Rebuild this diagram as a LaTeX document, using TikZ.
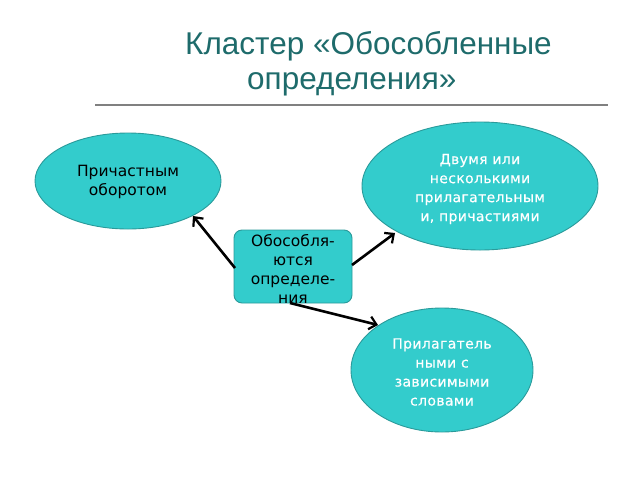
\documentclass[tikz,border=0pt]{standalone}
\usepackage{fontspec}
\setmainfont{DejaVu Sans}
\newfontfamily\titlefont{Liberation Sans}
\newfontfamily\spacedfont[LetterSpace=2.5,FakeBold=0.5]{DejaVu Sans}
\usetikzlibrary{shapes.geometric,arrows.meta}
\definecolor{tealfill}{HTML}{33CCCC}
\definecolor{tealedge}{HTML}{2A9A9A}
\definecolor{titlecol}{HTML}{1E6B6B}
\tikzset{
  bubble/.style={ellipse, draw=tealedge, fill=tealfill, line width=0.9pt, inner sep=0pt},
  centerbox/.style={rectangle, rounded corners=8pt, draw=tealedge, fill=tealfill, line width=0.9pt},
  txtw/.style={align=center, text=white, font=\spacedfont\fontsize{14}{19}\selectfont},
  txtb/.style={align=center, text=black, font=\fontsize{15.5}{19}\selectfont},
  link/.style={line width=2.6pt, -{Straight Barb[length=7pt,width=13pt,line width=2.2pt]}},
}
\begin{document}
\begin{tikzpicture}[x=1pt,y=-1pt]
\useasboundingbox (0,0) rectangle (640,480);
\node[font=\titlefont\fontsize{31.5}{35}\selectfont, text=titlecol, align=left, anchor=west, inner sep=0pt] (title) at (185,64) {Кластер «Обособленные\\\hspace*{62pt}определения»};
\draw[gray, line width=1.2pt] (95,105) coordinate (l1) -- (608,105) coordinate (l2);
\node[bubble, minimum width=186pt, minimum height=96pt] (e1) at (128,181) {};
\node[txtb] at (128,182) {Причастным\\оборотом};
\node[bubble, minimum width=236pt, minimum height=128pt] (e2) at (480,186) {};
\node[txtw] at (480,189) {Двумя или\\несколькими\\прилагательным\\и, причастиями};
\node[bubble, minimum width=182pt, minimum height=124pt] (e3) at (442,370) {};
\node[txtw] at (442,372) {Прилагатель\\ными с\\зависимыми\\словами};
\node[centerbox, minimum width=118pt, minimum height=73pt] (c) at (293,266.5) {};
\node[txtb] at (293,269) {Обособля-\\ются\\определе-\\ния};
\coordinate (a1) at (235,268);
\coordinate (a1e) at (193,216);
\coordinate (a2) at (352,265);
\coordinate (a2e) at (395,233);
\coordinate (a3) at (290,303);
\coordinate (a3e) at (378,325);
\draw[link] (a1) -- (a1e);
\draw[link] (a2) -- (a2e);
\draw[link] (a3) -- (a3e);
\end{tikzpicture}
\end{document}
